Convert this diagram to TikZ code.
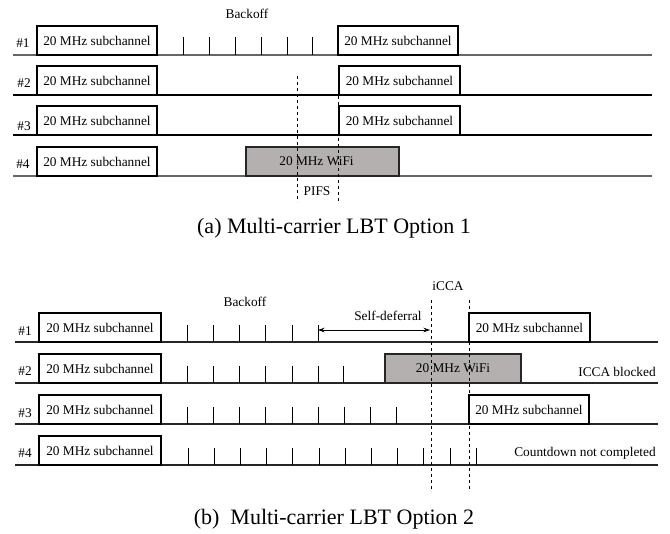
\documentclass[tikz,border=0pt]{standalone}
\usepackage{fontspec}
\setmainfont{Liberation Serif}
\usetikzlibrary{arrows.meta}
\tikzset{
  x=0.75pt, y=-0.75pt,
  lbl/.style={font=\fontsize{10}{12}\selectfont, inner sep=0pt},
  captext/.style={font=\fontsize{16.5}{20}\selectfont, inner sep=0pt},
  chbox/.style={draw=black, line width=1.3pt, fill=white, minimum height=21.75pt, inner sep=0pt, font=\fontsize{10}{12}\selectfont},
  wifibox/.style={draw=black!85, line width=1.3pt, fill={rgb,255:red,180;green,176;blue,176}, minimum height=21.75pt, inner sep=0pt, font=\fontsize{10}{12}\selectfont},
  rowline/.style={line width=1.1pt, draw=black},
  greyline/.style={line width=1.2pt, draw=black!60},
  tickline/.style={line width=0.7pt},
  dashline/.style={line width=0.7pt, dash pattern=on 2.5pt off 2pt},
}
\begin{document}
\begin{tikzpicture}
\useasboundingbox (0,0) rectangle (670,533);
% ---------------- (a) ----------------
\draw[greyline] (13,55) -- (652,55);
\draw[rowline] (13,95) -- (652,95);
\draw[rowline] (13,135) -- (652,135);
\draw[greyline] (13,176) -- (652,176);
\node[lbl] (aBack) at (247,14) {Backoff};
\node[lbl] (aN1) at (23,43) {\#1};
\node[lbl] (aN2) at (24,83) {\#2};
\node[lbl] (aN3) at (24,126) {\#3};
\node[lbl] (aN4) at (23,164) {\#4};
\node[chbox, minimum width=90pt] (aL1) at (97,40.5) {20 MHz subchannel};
\node[chbox, minimum width=90pt] (aL2) at (97,80.5) {20 MHz subchannel};
\node[chbox, minimum width=90pt] (aL3) at (97,120.5) {20 MHz subchannel};
\node[chbox, minimum width=90pt] (aL4) at (97,161.5) {20 MHz subchannel};
\foreach \x in {183,209,235,261,287,312} \draw[tickline] (\x,55) -- ++(0,-18);
\node[wifibox, minimum width=114.75pt] (aW) at (322.5,161.5) {\hspace*{-9pt}20 MHz WiFi};
\node[chbox, minimum width=90pt] (aR1) at (398,40.5) {20 MHz subchannel};
\node[chbox, minimum width=90.75pt] (aR2) at (399.5,80.5) {20 MHz subchannel};
\node[chbox, minimum width=90.75pt] (aR3) at (399.5,120.5) {20 MHz subchannel};
\coordinate (aD1t) at (297,76);
\coordinate (aD1b) at (297,202);
\coordinate (aD2t) at (338,66);
\coordinate (aD2b) at (338,202);
\draw[dashline] (aD1t) -- (aD1b);
\draw[dashline] (aD2t) -- (aD2b);
\node[lbl] (aPIFS) at (317,191) {PIFS};
\node[captext] (capA) at (334,228) {(a) Multi-carrier LBT Option 1};
% ---------------- (b) ----------------
\draw[rowline, draw=black!85] (15,342) -- (658,342);
\draw[rowline, draw=black!85] (15,383) -- (658,383);
\draw[rowline, draw=black!85] (15,424) -- (658,424);
\draw[rowline, draw=black!85] (15,465) -- (658,465);
\node[lbl] (bBack) at (245,302) {Backoff};
\node[lbl] (biCCA) at (448,286) {iCCA};
\node[lbl] (bSelf) at (388,316) {Self-deferral};
\node[lbl] (bN1) at (25,331) {\#1};
\node[lbl] (bN2) at (25,371) {\#2};
\node[lbl] (bN3) at (25,413) {\#3};
\node[lbl] (bN4) at (25,453) {\#4};
\node[chbox, minimum width=91.5pt] (bL1) at (100,327.5) {20 MHz subchannel};
\node[chbox, minimum width=91.5pt] (bL2) at (100,368.5) {20 MHz subchannel};
\node[chbox, minimum width=91.5pt] (bL3) at (100,409.5) {20 MHz subchannel};
\node[chbox, minimum width=91.5pt] (bL4) at (100,450.5) {20 MHz subchannel};
\foreach \x in {187,213,239,265,292,318} \draw[tickline] (\x,342) -- ++(0,-17);
\foreach \x in {187,213,239,265,292,318,343} \draw[tickline] (\x,383) -- ++(0,-17);
\foreach \x in {187,213,239,265,292,318,344,370,396} \draw[tickline] (\x,424) -- ++(0,-17);
\foreach \i in {0,...,11} \draw[tickline] ({188+26.2*\i},465) -- ++(0,-17);
\node[wifibox, minimum width=102pt] (bW) at (453,368.5) {20 MHz WiFi};
\node[chbox, minimum width=90.75pt] (bR1) at (529.5,327.5) {20 MHz subchannel};
\node[chbox, minimum width=90pt] (bR3) at (529,409.5) {20 MHz subchannel};
\node[lbl] (bBlk) at (617,372) {ICCA blocked};
\node[lbl] (bCnt) at (585,453) {Countdown not completed};
\coordinate (bD1t) at (431,300);
\coordinate (bD1b) at (431,492);
\coordinate (bD2t) at (469,300);
\coordinate (bD2b) at (469,492);
\draw[dashline] (bD1t) -- (bD1b);
\draw[dashline] (bD2t) -- (bD2b);
\coordinate (sdL) at (318,330);
\coordinate (sdR) at (430,330);
\draw[line width=0.6pt, {Stealth[length=5pt,width=3.5pt]}-{Stealth[length=5pt,width=3.5pt]}] (sdL) -- (sdR);
\node[captext] (capB) at (334,519) {(b)\ \ Multi-carrier LBT Option 2};
\end{tikzpicture}
\end{document}
